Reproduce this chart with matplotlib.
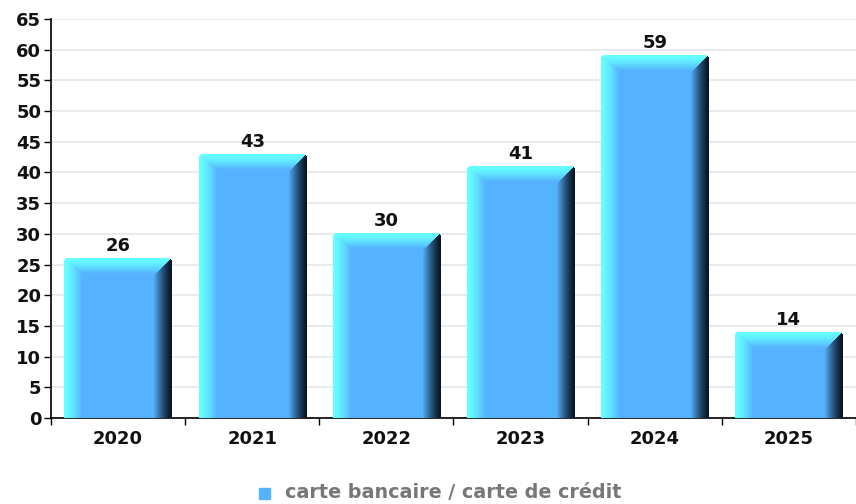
import numpy as np
import matplotlib.pyplot as plt
from matplotlib.patches import Rectangle

# donnees
annees = ["2020", "2021", "2022", "2023", "2024", "2025"]
valeurs = [26, 43, 30, 41, 59, 14]
serie = "carte bancaire / carte de crédit"

BLEU = np.array([85, 178, 255]) / 255
CYAN = np.array([102, 255, 255]) / 255
SOMBRE = np.array([8, 22, 38]) / 255

W_PX, H_PX = 856, 504
fig = plt.figure(figsize=(W_PX / 100, H_PX / 100), dpi=100)
ax = fig.add_axes([51 / W_PX, 86 / H_PX, (W_PX - 51) / W_PX, 399 / H_PX])

px_x = 1 / 136          # une categorie = 136 px
px_y = 65 / 399         # unites y par pixel
larg = 0.8


def image_barre(h, w, bev=18, right=18, top=15):
    img = np.ones((h, w, 4))
    for i in range(h):
        for j in range(w):
            dl, dr, dt = j, w - 1 - j, i
            # zone du biseau la plus proche
            if dr < right and dr <= dt and dr <= dl:
                t = (dr / right) ** 1.3
                c = SOMBRE * (1 - t) + BLEU * t
            elif dt < top and dt < dl:
                t = (dt / top) ** 1.4
                c = CYAN * (1 - t) + BLEU * t
            elif dl < bev:
                t = (dl / bev) ** 1.4
                c = CYAN * (1 - t) + BLEU * t
            else:
                c = BLEU
            img[i, j, :3] = c
    # coins arrondis en haut
    for (i, j) in [(0, 0), (0, 1), (1, 0), (0, w - 1), (0, w - 2), (1, w - 1)]:
        img[i, j, 3] = 0.0
    return img


for k, v in enumerate(valeurs):
    x0, x1 = k - larg / 2, k + larg / 2
    h = int(round(v / px_y))
    w = int(round(larg / px_x))
    ax.imshow(image_barre(h, w), extent=(x0, x1, 0, v), aspect="auto",
              interpolation="nearest", zorder=3)
    ax.text(k, v + 0.55, str(v), ha="center", va="bottom", fontsize=13,
            fontweight="bold", color="#111111", zorder=4)

ax.set_xlim(-0.5, -0.5 + (W_PX - 51) * px_x)
ax.set_ylim(0, 65)
ax.set_yticks(np.arange(0, 66, 5))
ax.set_xticks(range(len(annees)))
ax.set_xticklabels(annees)
ax.set_xticks(np.arange(-0.5, len(annees)), minor=True)
ax.tick_params(axis="x", which="major", length=0, pad=9, labelsize=13)
ax.tick_params(axis="x", which="minor", length=5, width=1)
ax.tick_params(axis="y", length=5, width=1, pad=2, labelsize=13)
for lab in ax.get_xticklabels() + ax.get_yticklabels():
    lab.set_fontweight("bold")
    lab.set_color("#111111")

ax.grid(axis="y", color="#e6e6e6", linewidth=1.2, zorder=0)
ax.set_axisbelow(True)
for s in ["top", "right"]:
    ax.spines[s].set_visible(False)
ax.spines["left"].set_linewidth(1.2)
ax.spines["bottom"].set_linewidth(1.2)

# legende
fig.patches.append(Rectangle((259 / W_PX, (H_PX - 499) / H_PX), 11 / W_PX, 11 / H_PX,
                             transform=fig.transFigure, color=tuple(BLEU)))
fig.text(285 / W_PX, (H_PX - 493) / H_PX, serie, ha="left", va="center",
         fontsize=13.8, fontweight="bold", color="#777777")

fig.savefig("out.png", dpi=100)
